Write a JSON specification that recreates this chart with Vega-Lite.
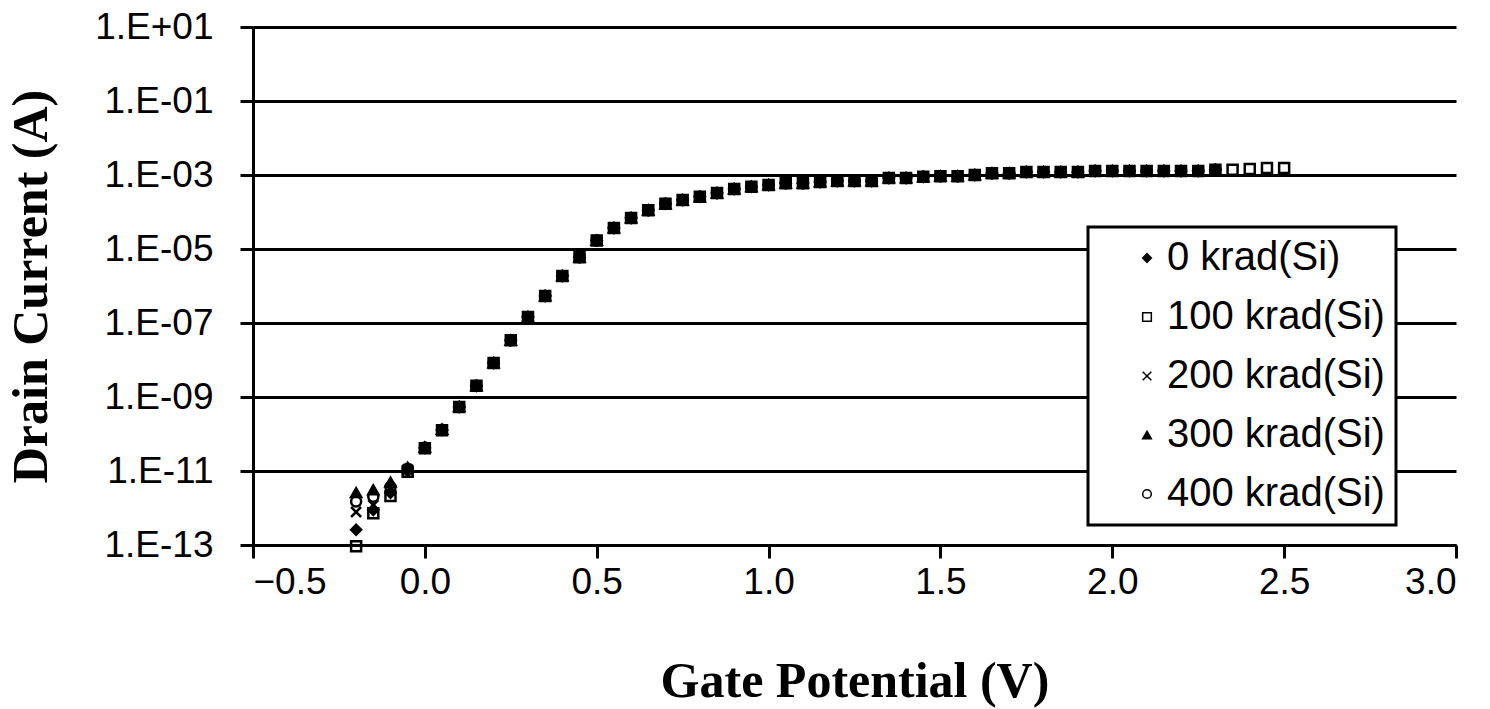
{
  "$schema": "https://vega.github.io/schema/vega-lite/v6.json",
  "autosize": "none",
  "width": 1203,
  "height": 518,
  "padding": {"left": 253, "top": 27, "right": 34, "bottom": 164},
  "background": "white",
  "config": {
    "view": {"stroke": null},
    "axis": {
      "labelFont": "Liberation Sans",
      "labelFontSize": 37,
      "labelColor": "black",
      "titleFont": "Liberation Serif",
      "titleFontSize": 50,
      "titleFontWeight": "bold",
      "titleColor": "black",
      "domainColor": "black",
      "domainWidth": 3,
      "tickColor": "black",
      "tickWidth": 3,
      "tickSize": 13
    },
    "legend": {
      "orient": "none",
      "legendX": 835,
      "legendY": 200,
      "padding": 11,
      "symbolOffset": 28,
      "strokeColor": "black",
      "strokeWidth": 3,
      "fillColor": "white",
      "labelFont": "Liberation Sans",
      "labelFontSize": 40,
      "labelColor": "black",
      "labelOffset": 0,
      "labelLimit": 500,
      "rowPadding": 19,
      "symbolSize": 75
    }
  },
  "data": {
    "values": [
      {"V": -0.2, "k0": 2.57e-13, "k100": 9.3e-14, "k200": 7.8e-13, "k300": 2.6e-12, "k400": 1.5e-12},
      {"V": -0.15, "k0": 8.9e-13, "k100": 7.2e-13, "k200": 1.2e-12, "k300": 3.1e-12, "k400": 2.0e-12},
      {"V": -0.1, "k0": 2.6e-12, "k100": 2.1e-12, "k200": 3.1e-12, "k300": 5.0e-12, "k400": 3.7e-12},
      {"V": -0.05, "k0": 1.0e-11, "k100": 9.5e-12, "k200": 1.1e-11, "k300": 1.25e-11, "k400": 1.15e-11},
      {"V": 0.0, "k0": 4.2e-11, "k100": 4.1e-11, "k200": 4.2e-11, "k300": 4.4e-11, "k400": 4.3e-11},
      {"V": 0.05, "k0": 1.29e-10, "k100": 1.27e-10, "k200": 1.29e-10, "k300": 1.33e-10, "k400": 1.3e-10},
      {"V": 0.1, "k0": 5.4e-10, "k100": 5.4e-10, "k200": 5.4e-10, "k300": 5.5e-10, "k400": 5.4e-10},
      {"V": 0.15, "k0": 2.0e-9, "k100": 2.0e-9, "k200": 2.0e-9, "k300": 2.0e-9, "k400": 2.0e-9},
      {"V": 0.2, "k0": 8.3e-9, "k100": 8.3e-9, "k200": 8.3e-9, "k300": 8.3e-9, "k400": 8.3e-9},
      {"V": 0.25, "k0": 3.4e-8, "k100": 3.4e-8, "k200": 3.4e-8, "k300": 3.4e-8, "k400": 3.4e-8},
      {"V": 0.3, "k0": 1.45e-7, "k100": 1.45e-7, "k200": 1.45e-7, "k300": 1.45e-7, "k400": 1.45e-7},
      {"V": 0.35, "k0": 5.4e-7, "k100": 5.4e-7, "k200": 5.4e-7, "k300": 5.4e-7, "k400": 5.4e-7},
      {"V": 0.4, "k0": 1.86e-6, "k100": 1.86e-6, "k200": 1.86e-6, "k300": 1.86e-6, "k400": 1.86e-6},
      {"V": 0.45, "k0": 6.0e-6, "k100": 6.0e-6, "k200": 6.0e-6, "k300": 6.0e-6, "k400": 6.0e-6},
      {"V": 0.5, "k0": 1.7e-5, "k100": 1.7e-5, "k200": 1.7e-5, "k300": 1.7e-5, "k400": 1.7e-5},
      {"V": 0.55, "k0": 3.7e-5, "k100": 3.7e-5, "k200": 3.7e-5, "k300": 3.7e-5, "k400": 3.7e-5},
      {"V": 0.6, "k0": 6.9e-5, "k100": 6.9e-5, "k200": 6.9e-5, "k300": 6.9e-5, "k400": 6.9e-5},
      {"V": 0.65, "k0": 1.12e-4, "k100": 1.12e-4, "k200": 1.12e-4, "k300": 1.12e-4, "k400": 1.12e-4},
      {"V": 0.7, "k0": 1.66e-4, "k100": 1.66e-4, "k200": 1.66e-4, "k300": 1.66e-4, "k400": 1.66e-4},
      {"V": 0.75, "k0": 2.1e-4, "k100": 2.1e-4, "k200": 2.1e-4, "k300": 2.1e-4, "k400": 2.1e-4},
      {"V": 0.8, "k0": 2.57e-4, "k100": 2.57e-4, "k200": 2.57e-4, "k300": 2.57e-4, "k400": 2.57e-4},
      {"V": 0.85, "k0": 3.24e-4, "k100": 3.24e-4, "k200": 3.24e-4, "k300": 3.24e-4, "k400": 3.24e-4},
      {"V": 0.9, "k0": 4.2e-4, "k100": 4.2e-4, "k200": 4.2e-4, "k300": 4.2e-4, "k400": 4.2e-4},
      {"V": 0.95, "k0": 4.8e-4, "k100": 4.8e-4, "k200": 4.8e-4, "k300": 4.8e-4, "k400": 4.8e-4},
      {"V": 1.0, "k0": 5.4e-4, "k100": 5.4e-4, "k200": 5.4e-4, "k300": 5.4e-4, "k400": 5.4e-4},
      {"V": 1.05, "k0": 6.0e-4, "k100": 6.0e-4, "k200": 6.0e-4, "k300": 6.0e-4, "k400": 6.0e-4},
      {"V": 1.1, "k0": 6.0e-4, "k100": 6.0e-4, "k200": 6.0e-4, "k300": 6.0e-4, "k400": 6.0e-4},
      {"V": 1.15, "k0": 6.5e-4, "k100": 6.5e-4, "k200": 6.5e-4, "k300": 6.5e-4, "k400": 6.5e-4},
      {"V": 1.2, "k0": 6.9e-4, "k100": 6.9e-4, "k200": 6.9e-4, "k300": 6.9e-4, "k400": 6.9e-4},
      {"V": 1.25, "k0": 6.9e-4, "k100": 6.9e-4, "k200": 6.9e-4, "k300": 6.9e-4, "k400": 6.9e-4},
      {"V": 1.3, "k0": 6.9e-4, "k100": 6.9e-4, "k200": 6.9e-4, "k300": 6.9e-4, "k400": 6.9e-4},
      {"V": 1.35, "k0": 8.3e-4, "k100": 8.3e-4, "k200": 8.3e-4, "k300": 8.3e-4, "k400": 8.3e-4},
      {"V": 1.4, "k0": 8.3e-4, "k100": 8.3e-4, "k200": 8.3e-4, "k300": 8.3e-4, "k400": 8.3e-4},
      {"V": 1.45, "k0": 8.9e-4, "k100": 8.9e-4, "k200": 8.9e-4, "k300": 8.9e-4, "k400": 8.9e-4},
      {"V": 1.5, "k0": 9.3e-4, "k100": 9.3e-4, "k200": 9.3e-4, "k300": 9.3e-4, "k400": 9.3e-4},
      {"V": 1.55, "k0": 9.3e-4, "k100": 9.3e-4, "k200": 9.3e-4, "k300": 9.3e-4, "k400": 9.3e-4},
      {"V": 1.6, "k0": 1.0e-3, "k100": 1.0e-3, "k200": 1.0e-3, "k300": 1.0e-3, "k400": 1.0e-3},
      {"V": 1.65, "k0": 1.12e-3, "k100": 1.12e-3, "k200": 1.12e-3, "k300": 1.12e-3, "k400": 1.12e-3},
      {"V": 1.7, "k0": 1.12e-3, "k100": 1.12e-3, "k200": 1.12e-3, "k300": 1.12e-3, "k400": 1.12e-3},
      {"V": 1.75, "k0": 1.2e-3, "k100": 1.2e-3, "k200": 1.2e-3, "k300": 1.2e-3, "k400": 1.2e-3},
      {"V": 1.8, "k0": 1.2e-3, "k100": 1.2e-3, "k200": 1.2e-3, "k300": 1.2e-3, "k400": 1.2e-3},
      {"V": 1.85, "k0": 1.2e-3, "k100": 1.2e-3, "k200": 1.2e-3, "k300": 1.2e-3, "k400": 1.2e-3},
      {"V": 1.9, "k0": 1.2e-3, "k100": 1.2e-3, "k200": 1.2e-3, "k300": 1.2e-3, "k400": 1.2e-3},
      {"V": 1.95, "k0": 1.29e-3, "k100": 1.29e-3, "k200": 1.29e-3, "k300": 1.29e-3, "k400": 1.29e-3},
      {"V": 2.0, "k0": 1.29e-3, "k100": 1.29e-3, "k200": 1.29e-3, "k300": 1.29e-3, "k400": 1.29e-3},
      {"V": 2.05, "k0": 1.29e-3, "k100": 1.29e-3, "k200": 1.29e-3, "k300": 1.29e-3, "k400": 1.29e-3},
      {"V": 2.1, "k0": 1.29e-3, "k100": 1.29e-3, "k200": 1.29e-3, "k300": 1.29e-3, "k400": 1.29e-3},
      {"V": 2.15, "k0": 1.29e-3, "k100": 1.29e-3, "k200": 1.29e-3, "k300": 1.29e-3, "k400": 1.29e-3},
      {"V": 2.2, "k0": 1.29e-3, "k100": 1.29e-3, "k200": 1.29e-3, "k300": 1.29e-3, "k400": 1.29e-3},
      {"V": 2.25, "k0": 1.29e-3, "k100": 1.29e-3, "k200": 1.29e-3, "k300": 1.29e-3, "k400": 1.29e-3},
      {"V": 2.3, "k0": 1.38e-3, "k100": 1.38e-3, "k200": 1.38e-3, "k300": 1.38e-3, "k400": 1.38e-3},
      {"V": 2.35, "k100": 1.38e-3},
      {"V": 2.4, "k100": 1.45e-3},
      {"V": 2.45, "k100": 1.55e-3},
      {"V": 2.5, "k100": 1.55e-3}
    ]
  },
  "transform": [
    {"fold": ["k0", "k100", "k200", "k300", "k400"], "as": ["series", "I"]},
    {"filter": "isValid(datum.I)"}
  ],
  "mark": {"type": "point", "size": 100, "stroke": "black", "strokeWidth": 2.5, "opacity": 1},
  "encoding": {
    "x": {
      "field": "V",
      "type": "quantitative",
      "title": "Gate Potential (V)",
      "scale": {"domain": [-0.5, 3.0], "nice": false, "zero": false},
      "axis": {
        "values": [-0.5, 0, 0.5, 1, 1.5, 2, 2.5, 3],
        "format": ".1f",
        "grid": false,
        "labelPadding": 6,
        "titlePadding": 56
      }
    },
    "y": {
      "field": "I",
      "type": "quantitative",
      "title": "Drain Current (A)",
      "scale": {"type": "log", "domain": [1e-13, 10], "nice": false},
      "axis": {
        "values": [1e-13, 1e-11, 1e-9, 1e-7, 1e-5, 1e-3, 1e-1, 10],
        "labelExpr": "'1.E' + (datum.value >= 1 ? '+' : '-') + (abs(round(log(datum.value)/LN10)) < 10 ? '0' : '') + abs(round(log(datum.value)/LN10))",
        "grid": true,
        "gridColor": "black",
        "gridWidth": 3,
        "gridOpacity": 1,
        "labelPadding": 27,
        "titlePadding": 38
      }
    },
    "shape": {
      "field": "series",
      "type": "nominal",
      "scale": {
        "domain": ["k0", "k100", "k200", "k300", "k400"],
        "range": ["diamond", "square", "M-1,-1L1,1M-1,1L1,-1", "triangle-up", "circle"]
      },
      "legend": {
        "title": null,
        "labelExpr": "slice(datum.label, 1) + ' krad(Si)'",
        "encode": {
          "symbols": {"update": {
            "stroke": {"value": "black"},
            "strokeWidth": {"value": 1.5},
            "fill": {"signal": "datum.value == 'k0' || datum.value == 'k300' ? 'black' : 'transparent'"}
          }}
        }
      }
    },
    "fill": {
      "field": "series",
      "type": "nominal",
      "scale": {
        "domain": ["k0", "k100", "k200", "k300", "k400"],
        "range": ["black", "transparent", "transparent", "black", "transparent"]
      },
      "legend": null
    }
  }
}
